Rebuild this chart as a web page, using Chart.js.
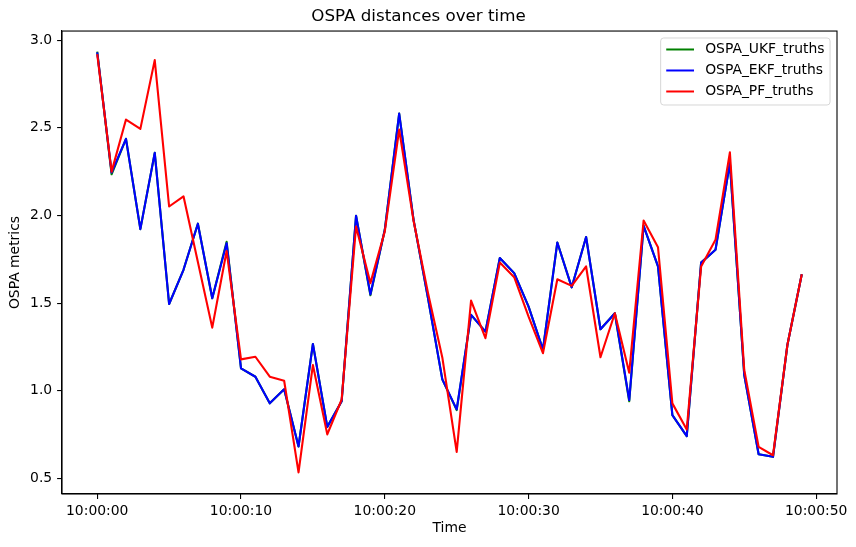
<!DOCTYPE html>
<html>
<head>
<meta charset="utf-8">
<script src="https://cdn.jsdelivr.net/npm/chart.js@4.4.1/dist/chart.umd.min.js"></script>
<style>
  html, body { margin: 0; padding: 0; background: #ffffff; }
  #c { display: block; }
</style>
</head>
<body>
<canvas id="c" width="856" height="547"></canvas>
<script>
// ---- data (seconds after 10:00:00) ----
const seconds = [0,1,2,3,4,5,6,7,8,9,10,11,12,13,14,15,16,17,18,19,20,21,22,23,24,25,26,27,28,29,30,31,32,33,34,35,36,37,38,39,40,41,42,43,44,45,46,47,48,49];

const ospaUKF = [2.935,2.235,2.437,1.922,2.357,1.495,1.69,1.953,1.528,1.85,1.128,1.08,0.928,1.008,0.682,1.267,0.794,0.94,1.998,1.545,1.918,2.581,1.975,1.53,1.065,0.89,1.433,1.337,1.757,1.671,1.48,1.235,1.846,1.59,1.877,1.351,1.442,0.94,1.941,1.709,0.861,0.741,1.731,1.804,2.30,1.09,0.638,0.623,1.261,1.665];
const ospaEKF = [2.93,2.245,2.437,1.922,2.357,1.495,1.69,1.953,1.528,1.842,1.128,1.08,0.928,1.008,0.682,1.267,0.794,0.94,1.998,1.55,1.918,2.581,1.975,1.53,1.065,0.894,1.433,1.337,1.757,1.671,1.48,1.235,1.846,1.59,1.877,1.351,1.442,0.947,1.941,1.709,0.861,0.741,1.731,1.804,2.30,1.09,0.638,0.623,1.261,1.665];
const ospaPF  = [2.92,2.25,2.547,2.494,2.886,2.051,2.109,1.735,1.36,1.797,1.179,1.194,1.08,1.057,0.534,1.147,0.751,0.95,1.937,1.614,1.909,2.49,1.97,1.56,1.19,0.651,1.514,1.30,1.731,1.648,1.423,1.214,1.636,1.598,1.709,1.191,1.442,1.103,1.971,1.819,0.928,0.779,1.709,1.861,2.36,1.118,0.68,0.632,1.261,1.665];

const seriesNames = ['OSPA_UKF_truths', 'OSPA_EKF_truths', 'OSPA_PF_truths'];
const seriesColors = ['#008000', '#0000ff', '#ff0000'];
const xTickValues = [0, 10, 20, 30, 40, 50];
const yTickValues = [0.5, 1.0, 1.5, 2.0, 2.5, 3.0];

const FONT = 'DejaVu Sans';
const pts = (arr) => seconds.map((s, i) => ({ x: s, y: arr[i] }));

const spinesPlugin = {
  id: 'spines',
  afterDatasetsDraw(chart) {
    const { ctx, chartArea: a } = chart;
    ctx.save();
    ctx.strokeStyle = '#000';
    ctx.lineWidth = 1.1;
    ctx.strokeRect(a.left, a.top, a.right - a.left, a.bottom - a.top);
    ctx.restore();
  }
};

const legendPlugin = {
  id: 'mplLegend',
  afterDraw(chart) {
    const { ctx, chartArea: a } = chart;
    const fs = 13.9;
    ctx.save();
    ctx.font = fs + 'px "' + FONT + '"';
    const ds = chart.data.datasets;
    let maxW = 0;
    ds.forEach(d => { maxW = Math.max(maxW, ctx.measureText(d.label).width); });
    const pad = 0.4 * fs, hl = 2 * fs, htp = 0.8 * fs;
    const w = pad * 2 + hl + htp + maxW;
    const h = 67;
    const x0 = a.right - 0.5 * fs - w;
    const y0 = a.top + 0.5 * fs;
    const r = 3;
    ctx.beginPath();
    ctx.moveTo(x0 + r, y0);
    ctx.lineTo(x0 + w - r, y0);
    ctx.quadraticCurveTo(x0 + w, y0, x0 + w, y0 + r);
    ctx.lineTo(x0 + w, y0 + h - r);
    ctx.quadraticCurveTo(x0 + w, y0 + h, x0 + w - r, y0 + h);
    ctx.lineTo(x0 + r, y0 + h);
    ctx.quadraticCurveTo(x0, y0 + h, x0, y0 + h - r);
    ctx.lineTo(x0, y0 + r);
    ctx.quadraticCurveTo(x0, y0, x0 + r, y0);
    ctx.closePath();
    ctx.fillStyle = 'rgba(255,255,255,0.8)';
    ctx.fill();
    ctx.strokeStyle = '#d6d6d6';
    ctx.lineWidth = 1;
    ctx.stroke();
    ds.forEach((d, i) => {
      const yy = y0 + 11.5 + i * 21;
      ctx.beginPath();
      ctx.strokeStyle = d.borderColor;
      ctx.lineWidth = 2;
      ctx.moveTo(x0 + pad, yy);
      ctx.lineTo(x0 + pad + hl, yy);
      ctx.stroke();
      ctx.fillStyle = '#000';
      ctx.textBaseline = 'middle';
      ctx.textAlign = 'left';
      ctx.fillText(d.label, x0 + pad + hl + htp, yy);
    });
    ctx.restore();
  }
};

new Chart(document.getElementById('c'), {
  type: 'line',
  data: {
    datasets: [
      { label: seriesNames[0], data: pts(ospaUKF), borderColor: seriesColors[0], backgroundColor: seriesColors[0], order: 3 },
      { label: seriesNames[1], data: pts(ospaEKF), borderColor: seriesColors[1], backgroundColor: seriesColors[1], order: 2 },
      { label: seriesNames[2], data: pts(ospaPF),  borderColor: seriesColors[2], backgroundColor: seriesColors[2], order: 1 }
    ]
  },
  options: {
    responsive: false,
    animation: false,
    devicePixelRatio: 1,
    layout: { padding: { left: 0, right: 19, top: 0, bottom: 0 } },
    elements: {
      point: { radius: 0, hoverRadius: 0 },
      line: { borderWidth: 2.1, tension: 0, fill: false, borderJoinStyle: 'round', borderCapStyle: 'butt' }
    },
    plugins: {
      legend: { display: false },
      tooltip: { enabled: false },
      title: {
        display: true,
        text: 'OSPA distances over time',
        color: '#000',
        font: { family: FONT, size: 16.7, weight: 'normal', lineHeight: 1.2 },
        padding: { top: 7, bottom: 4 }
      }
    },
    scales: {
      x: {
        type: 'linear',
        min: -2.45,
        max: 51.45,
        afterBuildTicks: (axis) => { axis.ticks = xTickValues.map(v => ({ value: v })); },
        afterFit: (scale) => { scale.height = 53; },
        ticks: {
          autoSkip: false,
          maxRotation: 0,
          color: '#000',
          padding: 4,
          font: { family: FONT, size: 13.9 },
          callback: (v) => '10:00:' + String(v).padStart(2, '0')
        },
        grid: { drawOnChartArea: false, drawTicks: true, tickLength: 4.9, color: '#000', lineWidth: 1.1 },
        border: { display: true, color: '#000', width: 1.1 },
        title: {
          display: true,
          text: 'Time',
          color: '#000',
          font: { family: FONT, size: 13.9, lineHeight: 1.2 },
          padding: { top: 4, bottom: 10 }
        }
      },
      y: {
        type: 'linear',
        min: 0.411,
        max: 3.052,
        afterBuildTicks: (axis) => { axis.ticks = yTickValues.map(v => ({ value: v })); },
        afterFit: (scale) => { scale.width = 62; },
        ticks: {
          color: '#000',
          padding: 4.9,
          font: { family: FONT, size: 13.9 },
          callback: (v) => Number(v).toFixed(1)
        },
        grid: { drawOnChartArea: false, drawTicks: true, tickLength: 4.9, color: '#000', lineWidth: 1.1 },
        border: { display: true, color: '#000', width: 1.1 },
        title: {
          display: true,
          text: 'OSPA metrics',
          color: '#000',
          font: { family: FONT, size: 13.9, lineHeight: 1.2 },
          padding: { top: 6.7, bottom: 4 }
        }
      }
    }
  },
  plugins: [spinesPlugin, legendPlugin]
});
</script>
</body>
</html>
